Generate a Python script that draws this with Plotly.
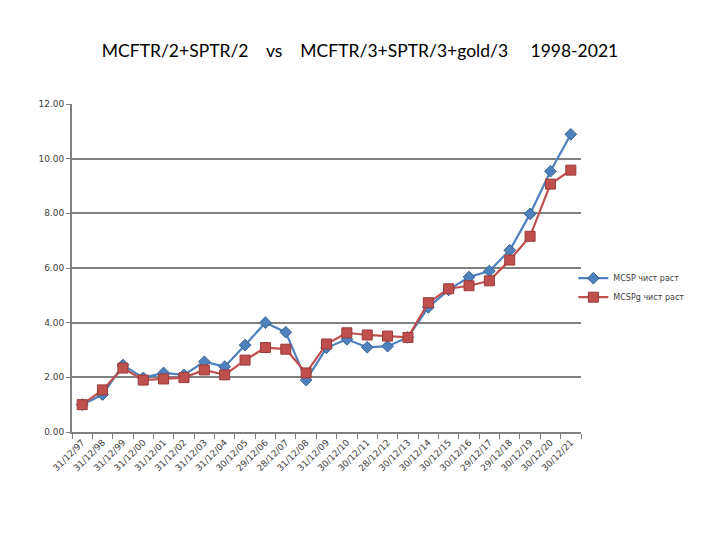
import plotly.graph_objects as go

dates = ["31/12/97", "31/12/98", "31/12/99", "31/12/00", "31/12/01", "31/12/02",
         "31/12/03", "31/12/04", "30/12/05", "29/12/06", "28/12/07", "31/12/08",
         "31/12/09", "30/12/10", "30/12/11", "28/12/12", "30/12/13", "30/12/14",
         "30/12/15", "30/12/16", "29/12/17", "29/12/18", "30/12/19", "30/12/20",
         "30/12/21"]

mcsp = [1.00, 1.37, 2.45, 1.98, 2.16, 2.09, 2.57, 2.39, 3.18, 4.00, 3.65, 1.90,
        3.08, 3.39, 3.10, 3.14, 3.46, 4.56, 5.20, 5.67, 5.89, 6.65, 7.98, 9.54,
        10.89]
mcspg = [1.00, 1.54, 2.34, 1.90, 1.94, 1.99, 2.27, 2.09, 2.63, 3.09, 3.03, 2.16,
         3.22, 3.63, 3.55, 3.51, 3.46, 4.73, 5.24, 5.35, 5.53, 6.29, 7.16, 9.07,
         9.58]

fig = go.Figure()
fig.add_trace(go.Scatter(
    x=dates, y=mcsp, mode="lines+markers", name="MCSP чист раст",
    line=dict(color="#4F81BD", width=2.2),
    marker=dict(symbol="diamond", size=9, color="#4F81BD",
                line=dict(color="#3A6390", width=1)),
))
fig.add_trace(go.Scatter(
    x=dates, y=mcspg, mode="lines+markers", name="MCSPg чист раст",
    line=dict(color="#C0504D", width=2.2),
    marker=dict(symbol="square", size=10, color="#C0504D",
                line=dict(color="#9A3B39", width=1)),
))

# page body has an 8px margin, so the figure is offset by 8px
fig.update_layout(
    width=720, height=540,
    paper_bgcolor="white", plot_bgcolor="white",
    title=dict(text="MCFTR/2+SPTR/2    vs    MCFTR/3+SPTR/3+gold/3     1998-2021",
               x=(360 - 8) / 720, xanchor="center", y=1 - 43 / 540, yanchor="middle",
               font=dict(family="Lato, Open Sans, sans-serif", size=17.5, color="black")),
    margin=dict(l=64, r=147, t=96, b=116),
    font=dict(family="DejaVu Sans, Verdana, sans-serif", size=9, color="#404040"),
    legend=dict(x=0.985, y=0.44, xanchor="left", yanchor="middle",
                bgcolor="rgba(0,0,0,0)",
                font=dict(size=8, color="#404040"), tracegroupgap=0,
                itemwidth=30),
)
fig.update_xaxes(
    type="category", range=[-0.5, len(dates) - 0.5],
    tickangle=-45, tickson="boundaries", automargin=False,
    ticks="outside", ticklen=5, tickcolor="#808080",
    showline=True, linecolor="#808080", linewidth=1.5,
    showgrid=False,
)
fig.update_yaxes(
    range=[0, 12], dtick=2, tickformat=".2f", automargin=False,
    ticks="outside", ticklen=4, tickcolor="#808080",
    showline=True, linecolor="#808080", linewidth=2,
    showgrid=True, gridcolor="#808080", gridwidth=1.5,
    zeroline=False,
)

fig.write_html("out.html")
